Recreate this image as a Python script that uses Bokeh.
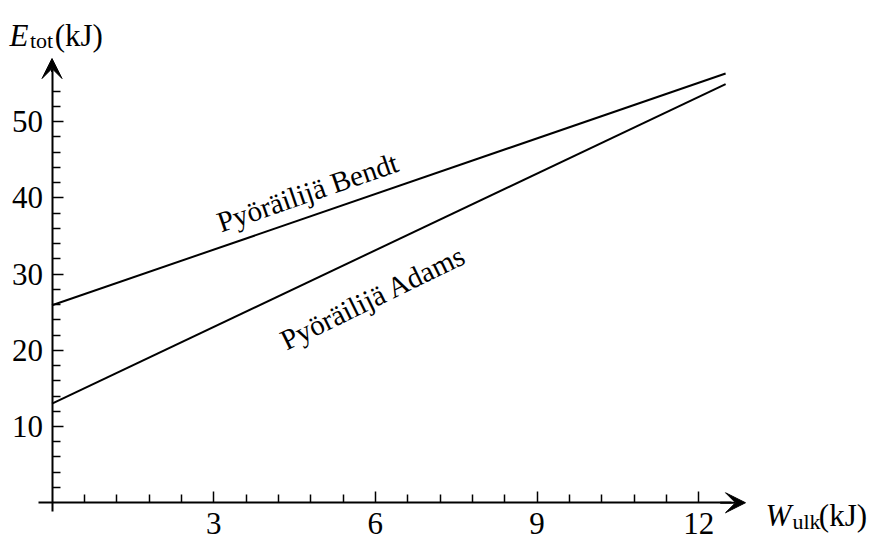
from bokeh.plotting import figure
from bokeh.models import (Range1d, FixedTicker, Arrow, VeeHead, Label)
from bokeh.core.properties import value
from bokeh.embed import file_html
from bokeh.resources import INLINE

# Total energy vs. external work for two cyclists (straight lines)
work_kj = [0.0, 12.5]
bendt_kj = [25.9, 56.3]
adams_kj = [13.0, 54.9]

x_ticks = [3, 6, 9, 12]
x_minor = [0.6, 1.2, 1.8, 2.4, 3.6, 4.2, 4.8, 5.4, 6.6, 7.2, 7.8, 8.4,
           9.6, 10.2, 10.8, 11.4]
y_ticks = [10, 20, 30, 40, 50]
y_minor = [2, 4, 6, 8, 12, 14, 16, 18, 22, 24, 26, 28, 32, 34, 36, 38,
           42, 44, 46, 48, 52, 54]

label_bendt = "Pyöräilijä Bendt"
label_adams = "Pyöräilijä Adams"

SERIF = "Liberation Serif"
W, H = 880, 546

p = figure(width=W, height=H, output_backend="svg", toolbar_location=None,
           x_range=Range1d(-0.956, 15.374), y_range=Range1d(-5.738, 65.87),
           min_border=0)
p.outline_line_color = None
p.background_fill_color = "white"
p.border_fill_color = "white"
p.xgrid.visible = False
p.ygrid.visible = False

# axes crossing at the origin
for ax, ticks, minor, bounds in ((p.xaxis[0], x_ticks, x_minor, (-0.25, 12.6)),
                                 (p.yaxis[0], y_ticks, y_minor, (-1.15, 57.0))):
    ax.fixed_location = 0
    ax.ticker = FixedTicker(ticks=ticks, minor_ticks=minor)
    ax.bounds = bounds
    ax.axis_line_width = 2
    ax.axis_line_color = "black"
    ax.major_tick_in = 11
    ax.major_tick_out = 0
    ax.minor_tick_in = 8
    ax.minor_tick_out = 0
    ax.major_tick_line_width = 1.5
    ax.minor_tick_line_width = 1.5
    ax.major_tick_line_color = "black"
    ax.minor_tick_line_color = "black"
    ax.major_label_text_font = SERIF
    ax.major_label_text_font_size = "31px"
    ax.major_label_text_color = "black"
p.xaxis[0].major_label_standoff = 10
p.yaxis[0].major_label_standoff = 9

# arrow heads at the ends of the axes
head_kw = dict(size=20, fill_color="black", line_color="black", line_width=1)
p.add_layout(Arrow(end=VeeHead(**head_kw), x_start=12.4, y_start=0,
                   x_end=12.869, y_end=0, line_width=2, line_color="black"))
p.add_layout(Arrow(end=VeeHead(**head_kw), x_start=0, y_start=56.5,
                   x_end=0, y_end=58.26, line_width=2, line_color="black"))

# the two lines
p.line(work_kj, bendt_kj, line_color="black", line_width=2)
p.line(work_kj, adams_kj, line_color="black", line_width=2)


def on_line(xs, ys, x):
    return ys[0] + (ys[1] - ys[0]) * (x - xs[0]) / (xs[1] - xs[0])


xb, xa = 4.741, 5.957
p.text(x=[xb], y=[on_line(work_kj, bendt_kj, xb)], text=[label_bendt],
       angle=19, angle_units="deg", y_offset=-25,
       text_align="center", text_baseline="alphabetic",
       text_font=value(SERIF), text_font_size=value("29px"), text_color="black")
p.text(x=[xa], y=[on_line(work_kj, adams_kj, xa)], text=[label_adams],
       angle=26, angle_units="deg", y_offset=46,
       text_align="center", text_baseline="alphabetic",
       text_font=value(SERIF), text_font_size=value("29px"), text_color="black")

# axis titles: E_tot(kJ) and W_ulk(kJ)
def title_part(x, y, text, size, italic=False):
    p.add_layout(Label(x=x, y=y, text=text, text_font=SERIF,
                       text_font_size=size, text_color="black",
                       text_font_style="italic" if italic else "normal",
                       text_align="left", text_baseline="alphabetic"))


title_part(-0.789, 61.28, "E", "31px", italic=True)
title_part(-0.41, 60.62, "tot", "22px")
title_part(0.05, 61.28, "(kJ)", "31px")

title_part(13.24, -1.672, "W", "31px", italic=True)
title_part(13.74, -2.459, "ulk", "22px")
title_part(14.23, -1.672, "(kJ)", "31px")

open("out.html", "w").write(file_html(p, INLINE))
